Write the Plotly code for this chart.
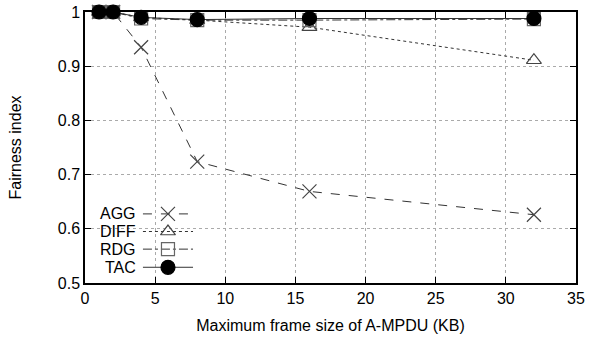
import plotly.graph_objects as go

frame_sizes = [1, 2, 4, 8, 16, 32]
agg = [1.0, 1.0, 0.935, 0.724, 0.669, 0.626]
diff = [1.0, 1.0, 0.990, 0.985, 0.972, 0.911]
rdg = [1.0, 1.0, 0.988, 0.985, 0.985, 0.987]
tac = [1.0, 1.0, 0.990, 0.986, 0.988, 0.988]
series_names = ["AGG", "DIFF", "RDG", "TAC"]
x_ticks = [0, 5, 10, 15, 20, 25, 30, 35]
y_ticks = [0.5, 0.6, 0.7, 0.8, 0.9, 1.0]
y_tick_text = ["0.5", "0.6", "0.7", "0.8", "0.9", "1"]

styles = {
    "AGG": dict(dash="dash", symbol="x-thin-open", size=14, color="#444"),
    "DIFF": dict(dash="dot", symbol="triangle-up-open", size=13, color="#444"),
    "RDG": dict(dash="dashdot", symbol="square-open", size=13, color="#666"),
    "TAC": dict(dash="solid", symbol="circle", size=14, color="#000"),
}
data = {"AGG": agg, "DIFF": diff, "RDG": rdg, "TAC": tac}

fig = go.Figure()
for name in ["AGG", "DIFF", "RDG", "TAC"]:
    s = styles[name]
    fig.add_trace(go.Scatter(
        x=frame_sizes, y=data[name], mode="lines+markers", name=name,
        line=dict(color="#333", width=1, dash=s["dash"]),
        marker=dict(symbol=s["symbol"], size=s["size"], color=s["color"],
                    line=dict(color=s["color"], width=1.2)),
        showlegend=False, cliponaxis=False,
    ))

# manual legend (text left of sample), drawn on overlay axes in paper space
leg_y = [0.255, 0.19, 0.125, 0.058]
for i, name in enumerate(series_names):
    s = styles[name]
    fig.add_trace(go.Scatter(
        x=[0.118, 0.22], y=[leg_y[i], leg_y[i]], xaxis="x2", yaxis="y2",
        mode="lines", line=dict(color="#333", width=1, dash=s["dash"]),
        showlegend=False, hoverinfo="skip"))
    fig.add_trace(go.Scatter(
        x=[0.169], y=[leg_y[i]], xaxis="x2", yaxis="y2", mode="markers",
        marker=dict(symbol=s["symbol"], size=s["size"], color=s["color"],
                    line=dict(color=s["color"], width=1.2)),
        showlegend=False, hoverinfo="skip"))
    fig.add_annotation(x=0.108, y=leg_y[i], xref="x2", yref="y2", text=name,
                       showarrow=False, xanchor="right", yanchor="middle",
                       font=dict(size=16, color="#000"))

axis_common = dict(showline=True, linecolor="#000", linewidth=1.5, mirror="ticks",
                   ticks="inside", ticklen=6, tickcolor="#000",
                   showgrid=True, gridcolor="#aaa", griddash="dot", gridwidth=1,
                   zeroline=False, automargin=False,
                   tickfont=dict(size=16, color="#000"))

fig.update_layout(
    width=591, height=342,
    margin=dict(l=85, r=15, t=12, b=59),
    paper_bgcolor="white", plot_bgcolor="white",
    font=dict(family="Liberation Sans, Arial, sans-serif", color="#000"),
    xaxis=dict(range=[0, 35], tickvals=x_ticks,
               title=dict(text="Maximum frame size of A-MPDU (KB)", font=dict(size=16), standoff=14),
               **axis_common),
    yaxis=dict(range=[0.5, 1.0], tickvals=y_ticks, ticktext=y_tick_text,
               title=dict(text="Fairness index", font=dict(size=16), standoff=32),
               **axis_common),
    xaxis2=dict(range=[0, 1], overlaying="x", visible=False, fixedrange=True),
    yaxis2=dict(range=[0, 1], overlaying="y", visible=False, fixedrange=True),
)

fig.write_html("out.html", config={"displayModeBar": False},
               post_script="document.body.style.margin='0';document.body.style.overflow='hidden';")
